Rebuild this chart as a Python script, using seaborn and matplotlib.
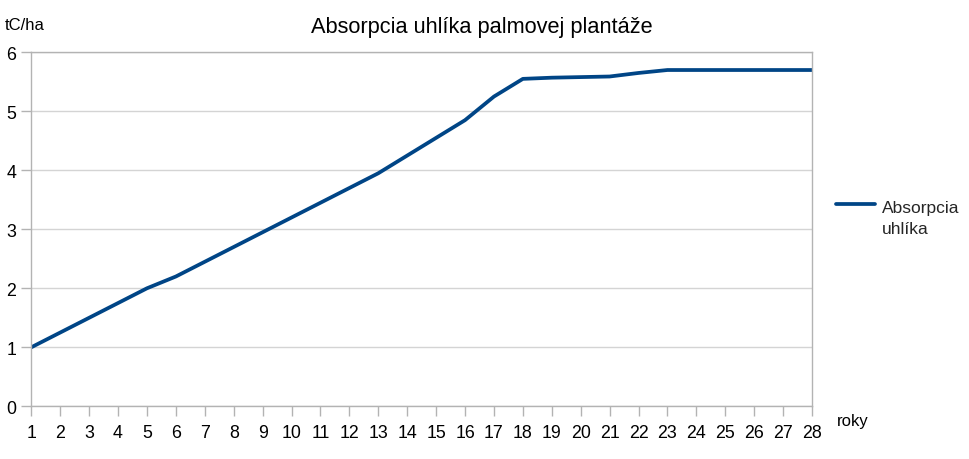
import matplotlib
matplotlib.use("Agg")
import matplotlib.pyplot as plt
import seaborn as sns
import pandas as pd

years = list(range(1, 29))
absorpcia = [1.0, 1.25, 1.5, 1.75, 2.0, 2.2, 2.45, 2.7, 2.95, 3.2, 3.45, 3.7, 3.95,
             4.25, 4.55, 4.85, 5.25, 5.55, 5.57, 5.58, 5.59, 5.65, 5.7, 5.7, 5.7,
             5.7, 5.7, 5.7]
series_name = "Absorpcia\nuhlíka"
title = "Absorpcia uhlíka palmovej plantáže"
y_label = "tC/ha"
x_label = "roky"

df = pd.DataFrame({"rok": years, "hodnota": absorpcia, "séria": series_name})

sns.set_theme(style="white")
plt.rcParams["font.family"] = ["Liberation Sans", "DejaVu Sans"]

fig = plt.figure(figsize=(9.69, 4.6), dpi=100)
ax = fig.add_axes([0.0323, 0.1146, 0.8057, 0.7695])

sns.lineplot(data=df, x="rok", y="hodnota", hue="séria", palette=["#004586"],
             linewidth=2.7, ax=ax, legend=True)

ax.set_xlim(1, 28)
ax.set_ylim(0, 6)
ax.set_xticks(years)
ax.set_yticks(range(0, 7))
ax.grid(axis="y", color="#d4d4d4", linewidth=1)
ax.set_axisbelow(True)
for s in ax.spines.values():
    s.set_color("#b3b3b3")
    s.set_linewidth(1)
ax.tick_params(axis="both", which="both", direction="out", length=7, width=1,
               color="#b3b3b3", labelsize=12.8, labelcolor="black",
               bottom=True, left=True)
ax.tick_params(axis="x", pad=6)
ax.tick_params(axis="y", pad=4)
ax.set_xlabel("")
ax.set_ylabel("")

fig.text(0.497, 0.94, title, ha="center", va="center", fontsize=15.7, color="black")
fig.text(0.005, 0.945, y_label, ha="left", va="center", fontsize=12, color="black")
fig.text(0.864, 0.083, x_label, ha="left", va="center", fontsize=12, color="black")

leg = ax.legend(loc="center left", bbox_to_anchor=(0.8627, 0.524),
                bbox_transform=fig.transFigure, frameon=False,
                fontsize=12.5, handlelength=2.25, handletextpad=0.4,
                borderaxespad=0, borderpad=0)
for t in leg.get_texts():
    t.set_linespacing(1.55)
for line in leg.get_lines():
    line.set_linewidth(2.7)
    yd = line.get_ydata()
    line.set_ydata([v + 10 for v in yd])

fig.savefig("out.png", dpi=100)
